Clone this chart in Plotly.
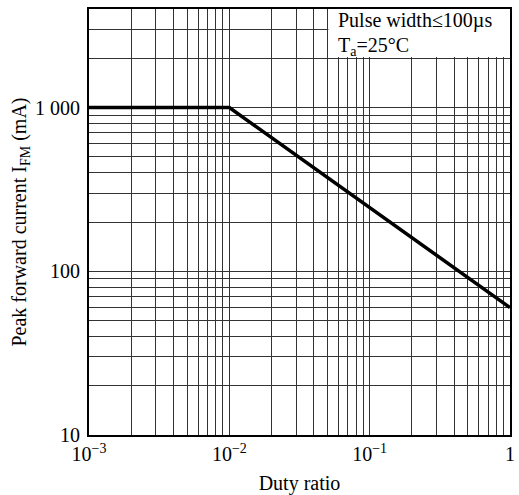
import plotly.graph_objects as go
import numpy as np

# Data
duty_ratio = [0.001, 0.01, 1.0]
peak_current = [1000, 1000, 60]

x_major = [0.001, 0.01, 0.1, 1.0]
x_major_text = ["10<sup>\u22123</sup>", "10<sup>\u22122</sup>", "10<sup>\u22121</sup>", "1"]
x_minor = [m * 10.0 ** e for e in (-3, -2, -1) for m in range(2, 10)]
y_major = [10, 100, 1000]
y_major_text = ["10", "100", "1 000"]
y_minor = [m * 10.0 ** e for e in (1, 2) for m in range(2, 10)] + [2000, 3000]

note_lines = ["Pulse width\u2264100\u00b5s", "T<sub>a</sub>=25\u00b0C"]

font = dict(family="Liberation Serif, Times New Roman, serif", size=20, color="black")
grid_c = "#333333"

fig = go.Figure()
fig.add_trace(go.Scatter(x=duty_ratio, y=peak_current, mode="lines",
                         line=dict(color="black", width=3.5), showlegend=False))

fig.add_shape(type="rect", xref="x", yref="y", x0=0.0508, x1=1.0, y0=2035, y1=4000,
              fillcolor="white", line=dict(width=0), layer="above")
for i, t in enumerate(note_lines):
    fig.add_annotation(xref="x", yref="paper", x=np.log10(0.05), y=[0.972, 0.913][i],
                       xanchor="left", yanchor="middle", xshift=9,
                       align="left", showarrow=False, text=t, font=font)

fig.update_xaxes(type="log", range=[-3, 0],
                 tickvals=x_major, ticktext=x_major_text,
                 minor=dict(tickvals=x_minor, showgrid=True, gridcolor=grid_c, gridwidth=1, ticks=""),
                 showgrid=True, gridcolor=grid_c, gridwidth=1,
                 showline=True, linecolor="black", linewidth=2, mirror=True,
                 ticks="", tickfont=font, title=dict(text="Duty ratio", font=font, standoff=12),
                 zeroline=False)
fig.update_yaxes(type="log", range=[1, np.log10(4000)],
                 tickvals=y_major, ticktext=y_major_text,
                 minor=dict(tickvals=y_minor, showgrid=True, gridcolor=grid_c, gridwidth=1, ticks=""),
                 showgrid=True, gridcolor=grid_c, gridwidth=1,
                 showline=True, linecolor="black", linewidth=2, mirror=True,
                 ticks="", tickfont=font, ticklabelstandoff=3,
                 title=dict(text="Peak forward current I<sub>FM</sub> (mA)", font=font, standoff=3),
                 zeroline=False)

fig.update_layout(width=519, height=495, margin=dict(l=89, r=4, t=9, b=59),
                  plot_bgcolor="white", paper_bgcolor="white", font=font)

fig.write_html("out.html")
